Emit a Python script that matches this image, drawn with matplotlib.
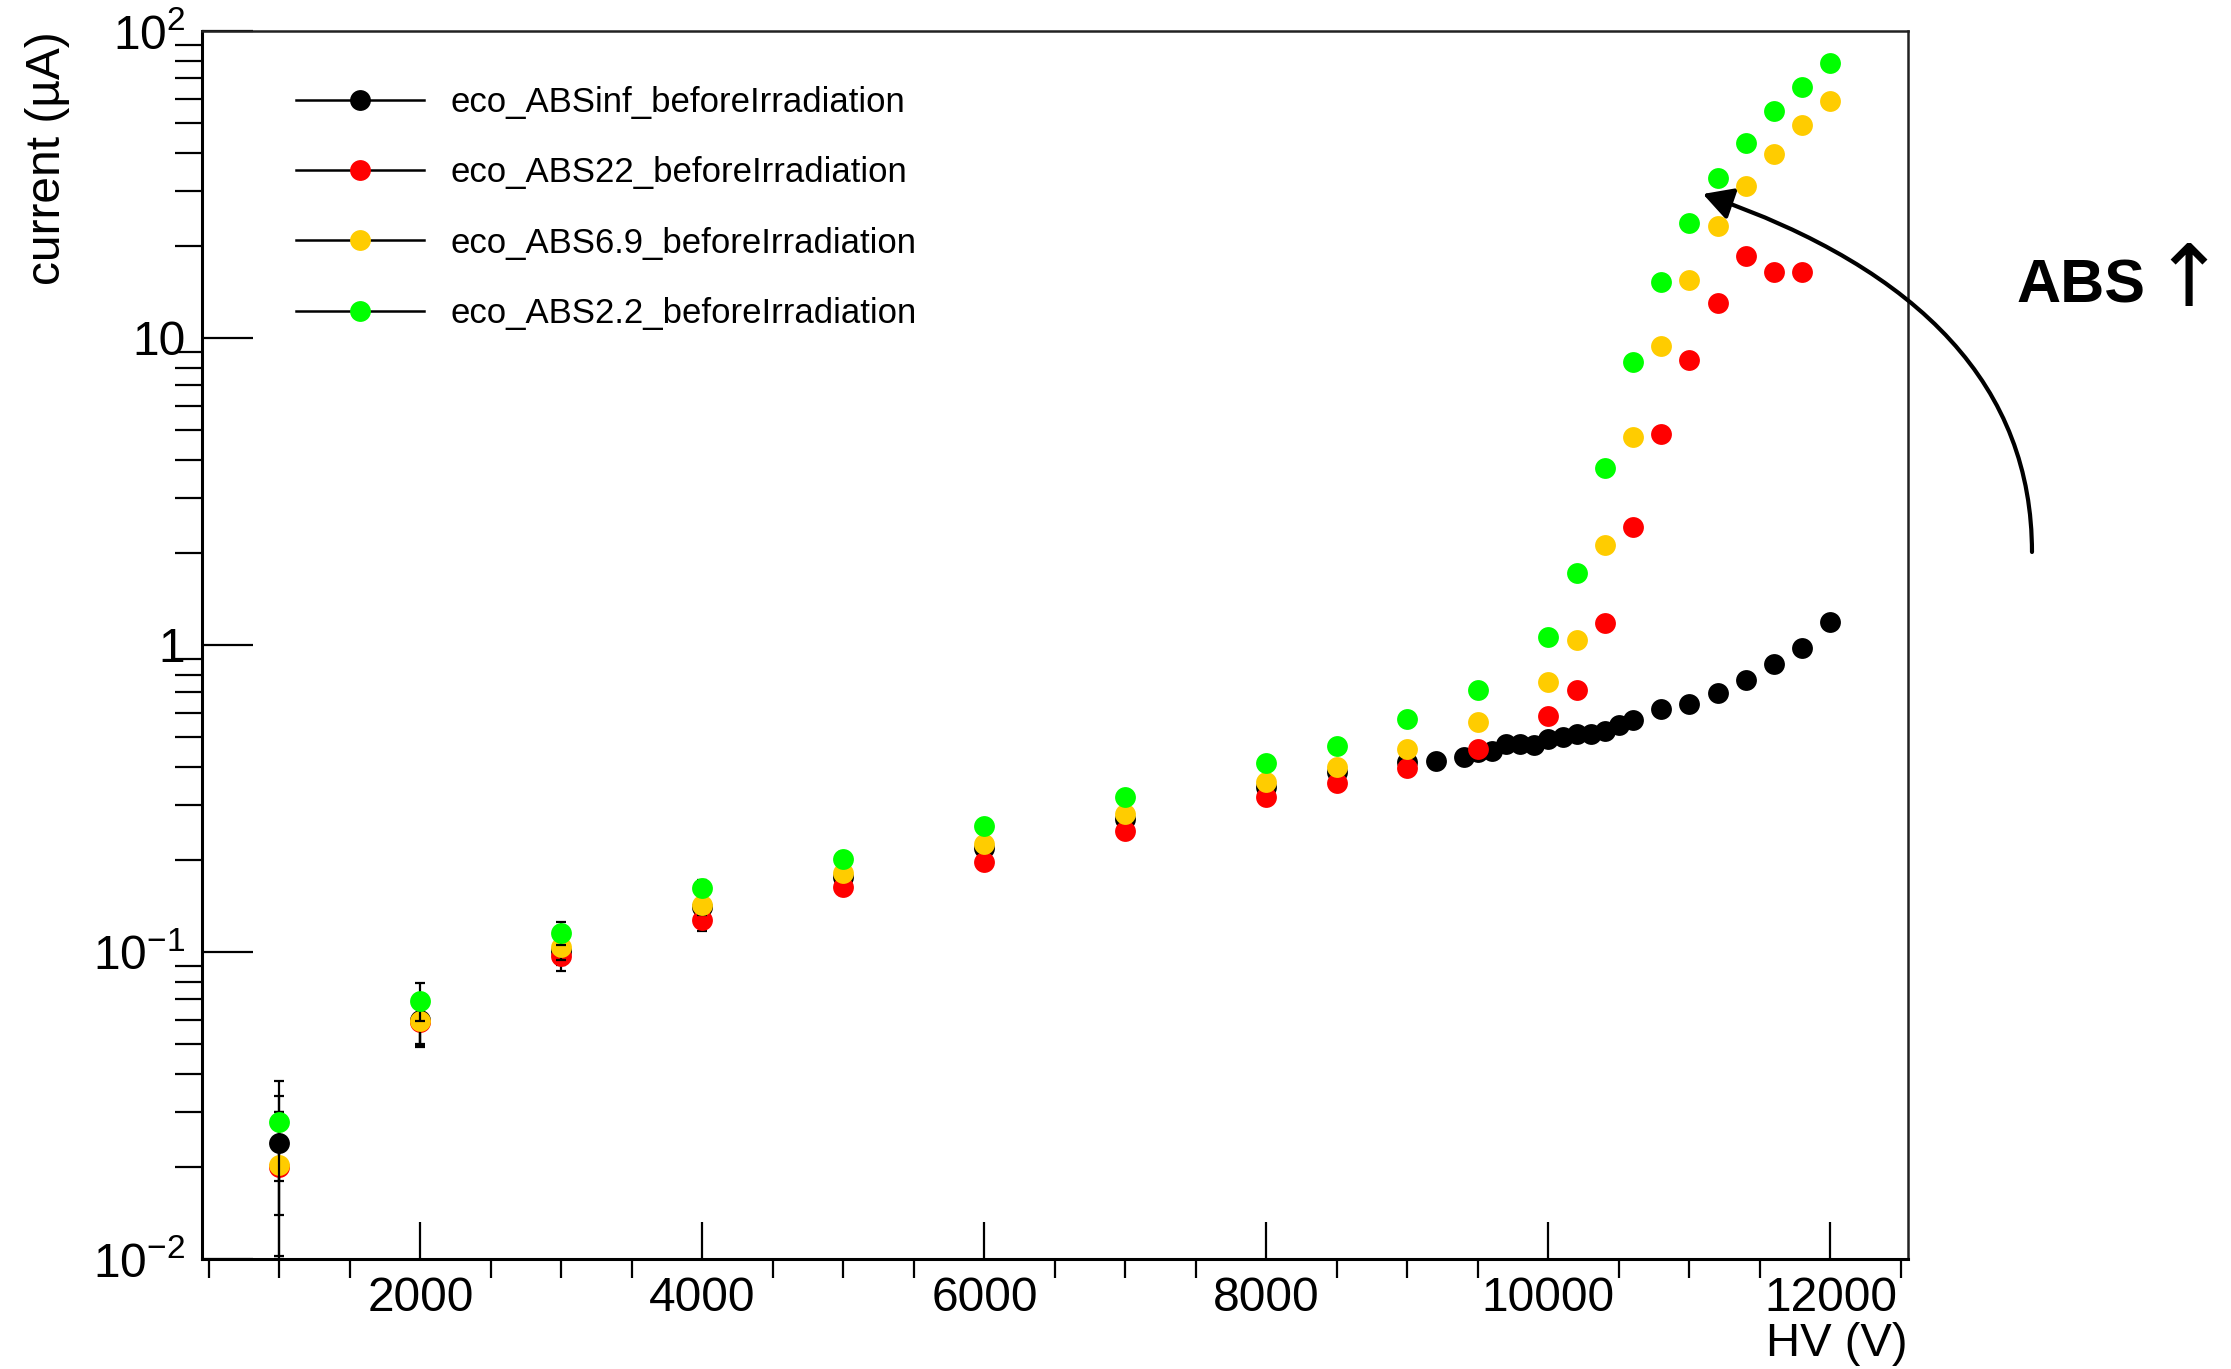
import matplotlib
matplotlib.use("Agg")
import matplotlib.pyplot as plt
from matplotlib.lines import Line2D
from matplotlib.ticker import MultipleLocator, LogLocator, NullFormatter

plt.rcParams['font.family'] = ['Liberation Sans', 'DejaVu Sans']
plt.rcParams['mathtext.fontset'] = 'custom'
plt.rcParams['mathtext.rm'] = 'Liberation Sans'
plt.rcParams['mathtext.it'] = 'Liberation Sans:italic'
plt.rcParams['mathtext.bf'] = 'Liberation Sans:bold'

# HV (V) and current (uA)
hv_inf = [1000, 2000, 3000, 4000, 5000, 6000, 7000, 8000, 8500, 9000, 9200, 9400, 9500,
          9600, 9700, 9800, 9900, 10000, 10100, 10200, 10300, 10400, 10500, 10600,
          10800, 11000, 11200, 11400, 11600, 11800, 12000]
cur_inf = [0.0239, 0.060, 0.101, 0.140, 0.176, 0.218, 0.272, 0.345, 0.385, 0.416, 0.420,
           0.430, 0.447, 0.453, 0.476, 0.476, 0.472, 0.494, 0.503, 0.513, 0.513, 0.526,
           0.549, 0.571, 0.619, 0.642, 0.696, 0.769, 0.867, 0.978, 1.19]

hv_22 = [1000, 2000, 3000, 4000, 5000, 6000, 7000, 8000, 8500, 9000, 9500, 10000,
         10200, 10400, 10600, 10800, 11000, 11200, 11400, 11600, 11800]
cur_22 = [0.020, 0.059, 0.097, 0.127, 0.163, 0.197, 0.247, 0.319, 0.355, 0.397, 0.458,
          0.586, 0.713, 1.18, 2.42, 4.85, 8.5, 13.0, 18.5, 16.4, 16.4]

hv_69 = [1000, 2000, 3000, 4000, 5000, 6000, 7000, 8000, 8500, 9000, 9500, 10000,
         10200, 10400, 10600, 10800, 11000, 11200, 11400, 11600, 11800, 12000]
cur_69 = [0.0202, 0.0597, 0.104, 0.142, 0.181, 0.224, 0.281, 0.359, 0.399, 0.458, 0.56,
          0.76, 1.04, 2.11, 4.75, 9.44, 15.5, 23.1, 31.3, 39.7, 49.4, 59.3]

hv_22b = [1000, 2000, 3000, 4000, 5000, 6000, 7000, 8000, 8500, 9000, 9500, 10000,
          10200, 10400, 10600, 10800, 11000, 11200, 11400, 11600, 11800, 12000]
cur_22b = [0.0279, 0.0694, 0.115, 0.1616, 0.201, 0.258, 0.319, 0.412, 0.469, 0.574, 0.713,
           1.06, 1.72, 3.76, 8.35, 15.2, 23.6, 33.3, 43.1, 54.7, 65.6, 78.5]

cur_err = 0.01

labels = ['eco_ABSinf_beforeIrradiation', 'eco_ABS22_beforeIrradiation',
          'eco_ABS6.9_beforeIrradiation', 'eco_ABS2.2_beforeIrradiation']
colors = ['#000000', '#ff0000', '#ffcc00', '#00ff00']

series = [(hv_inf, cur_inf), (hv_22, cur_22), (hv_69, cur_69), (hv_22b, cur_22b)]

fig = plt.figure(figsize=(22.31, 13.69), dpi=100)
ax = fig.add_axes([0.0905, 0.0804, 0.7647, 0.897])

for i, (x, y) in enumerate(series):
    ax.errorbar(x, y, yerr=cur_err, fmt='none', ecolor='k', elinewidth=1.6,
                capsize=3.6, capthick=1.6, zorder=2 + 2 * i)
    ax.plot(x, y, 'o', color=colors[i], markersize=15, markeredgewidth=0, zorder=3 + 2 * i)

ax.set_yscale('log')
ax.set_xlim(450, 12550)
ax.set_ylim(0.01, 100)

ax.set_xticks([2000, 4000, 6000, 8000, 10000, 12000])
ax.xaxis.set_minor_locator(MultipleLocator(500))
ax.set_yticks([0.01, 0.1, 1, 10, 100], ['$10^{-2}$', '$10^{-1}$', '1', '10', '$10^{2}$'])
ax.yaxis.set_minor_locator(LogLocator(base=10, subs=[2, 3, 4, 5, 6, 7, 8, 9]))
ax.yaxis.set_minor_formatter(NullFormatter())

ax.tick_params(direction='in', top=False, right=False, labelsize=34.5, width=1.6)
ax.xaxis.set_tick_params(which='major', length=26.6, pad=12)
ax.xaxis.set_tick_params(which='minor', length=13.7, width=1.6)
ax.yaxis.set_tick_params(which='major', length=36.7, pad=12)
ax.yaxis.set_tick_params(which='minor', length=19.8, width=1.6)

for s in ['left', 'bottom']:
    ax.spines[s].set_linewidth(2.2)
for s in ['top', 'right']:
    ax.spines[s].set_linewidth(1.8)
    ax.spines[s].set_color('#222222')

ax.set_xlabel('HV (V)', fontsize=34, loc='right')
ax.xaxis.set_label_coords(1.0, -0.051)
ax.set_ylabel('current (µA)', fontsize=34.5, loc='top')
ax.yaxis.set_label_coords(-0.0775, 1.0)

handles = [Line2D([0], [0], color='k', lw=1.8, marker='o', markersize=15,
                  markerfacecolor=c, markeredgewidth=0) for c in colors]
ax.legend(handles, labels, loc='upper left', bbox_to_anchor=(0.055, 0.955),
          frameon=False, fontsize=25, handlelength=3.69, handletextpad=0.78,
          labelspacing=1.07, borderpad=0, borderaxespad=0)

# curved arrow and label outside the frame
ax.annotate('', xy=(0.7633, 0.8583), xytext=(0.9108, 0.5968),
            xycoords='figure fraction', textcoords='figure fraction',
            arrowprops=dict(arrowstyle='-|>,head_length=0.4,head_width=0.22',
                            connectionstyle='angle3,angleA=90,angleB=-19',
                            lw=3, color='k', mutation_scale=45, shrinkA=0, shrinkB=0))
fig.text(0.904, 0.7794, 'ABS', fontsize=44, fontweight='bold', va='baseline', ha='left')
fig.text(0.981, 0.7634, '↑', fontsize=62, family=['DejaVu Sans'], va='bottom', ha='center')

fig.savefig('out.png', dpi=100)
